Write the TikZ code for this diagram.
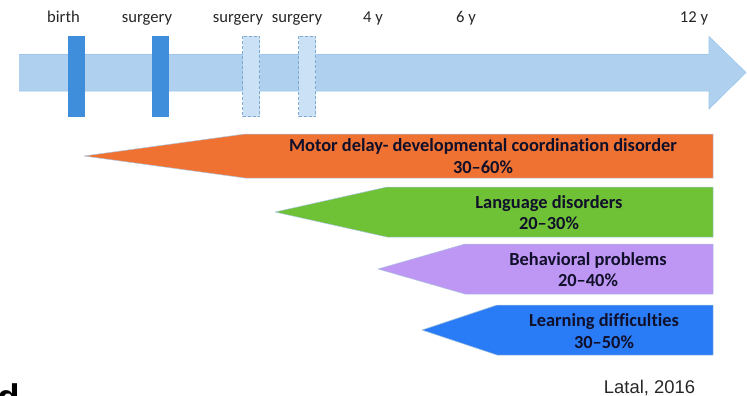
\documentclass[tikz,border=0pt]{standalone}
\usepackage{fontspec}
\setmainfont[Ligatures={NoCommon}]{Carlito}
\newfontfamily\arialf{Liberation Sans}
\definecolor{shaft}{HTML}{AFD1EF}
\definecolor{shaftedge}{HTML}{9CC6EA}
\definecolor{solidbar}{HTML}{3E8EDB}
\definecolor{softbar}{HTML}{CBE1F5}
\definecolor{softedge}{HTML}{7FA9CF}
\definecolor{orangeband}{HTML}{EF7233}
\definecolor{greenband}{HTML}{6FC136}
\definecolor{purpleband}{HTML}{BE96F4}
\definecolor{blueband}{HTML}{2A7BF6}
\definecolor{inkband}{HTML}{10102A}
\definecolor{bandedge}{HTML}{A9C4DE}
\tikzset{
  x=1pt,y=-1pt,
  ticklabel/.style={font=\fontsize{16.6}{18}\selectfont,text=black!85,inner sep=0pt,anchor=base},
  bandlabel/.style={font=\fontsize{18.4}{21.4}\selectfont\bfseries,text=inkband,align=center,inner sep=0pt,anchor=center},
  solidmark/.style={fill=solidbar,draw=none},
  softmark/.style={fill=softbar,draw=softedge,densely dashed,line width=0.7pt},
  bandshape/.style={draw=bandedge,line width=0.5pt,line join=round},
}
\begin{document}
\begin{tikzpicture}
\useasboundingbox (0,0) rectangle (747,396);
% main arrow
\filldraw[fill=shaft,draw=shaftedge,line width=0.6pt] (19,54.5) -- (709,54.5) -- (709,36.5) -- (746,72.5) -- (709,109) -- (709,91) -- (19,91);
% markers
\fill[solidmark] (67.5,36.5) rectangle (84.5,116.5);
\fill[solidmark] (151.5,36.5) rectangle (168.5,116.5);
\draw[softmark] (242.5,36.5) rectangle (259.5,116.5);
\draw[softmark] (298.5,36.5) rectangle (315.5,116.5);
% time labels
\node[ticklabel] (t1) at (63.5,23) {birth};
\node[ticklabel] (t2) at (147,23) {surgery};
\node[ticklabel] (t3) at (238,23) {surgery};
\node[ticklabel] (t4) at (297,23) {surgery};
\node[ticklabel] (t5) at (373,23) {4 y};
\node[ticklabel] (t6) at (466,23) {6 y};
\node[ticklabel] (t7) at (694,23) {12 y};
% bands
\filldraw[bandshape,fill=orangeband] (84,156) -- (245,134) -- (713,134) -- (713,178) -- (245,178) -- cycle;
\filldraw[bandshape,fill=greenband] (275,212) -- (387,187) -- (713,187) -- (713,237) -- (387,237) -- cycle;
\filldraw[bandshape,fill=purpleband] (378,269) -- (465,244) -- (713,244) -- (713,294) -- (465,294) -- cycle;
\filldraw[bandshape,fill=blueband] (422,330) -- (497,305) -- (713,305) -- (713,355) -- (497,355) -- cycle;
\node[bandlabel] (b1) at (483,156) {Motor delay- developmental coordination disorder\\30–60\%};
\node[bandlabel] (b2) at (549,212.5) {Language disorders\\20–30\%};
\node[bandlabel] (b3) at (588,269.5) {Behavioral problems\\20–40\%};
\node[bandlabel] (b4) at (604,331) {Learning difficulties\\30–50\%};
% citation
\node[font=\arialf\fontsize{18.4}{20}\selectfont,text=black!85,inner sep=0pt] (c) at (649.5,388) {Latal, 2016};
\begin{scope}
\clip (0,0) rectangle (747,396);
\node[font=\arialf\fontsize{37}{37}\selectfont\bfseries,anchor=base east,inner sep=0pt] (d) at (20.5,410) {d};
\end{scope}
\end{tikzpicture}
\end{document}
